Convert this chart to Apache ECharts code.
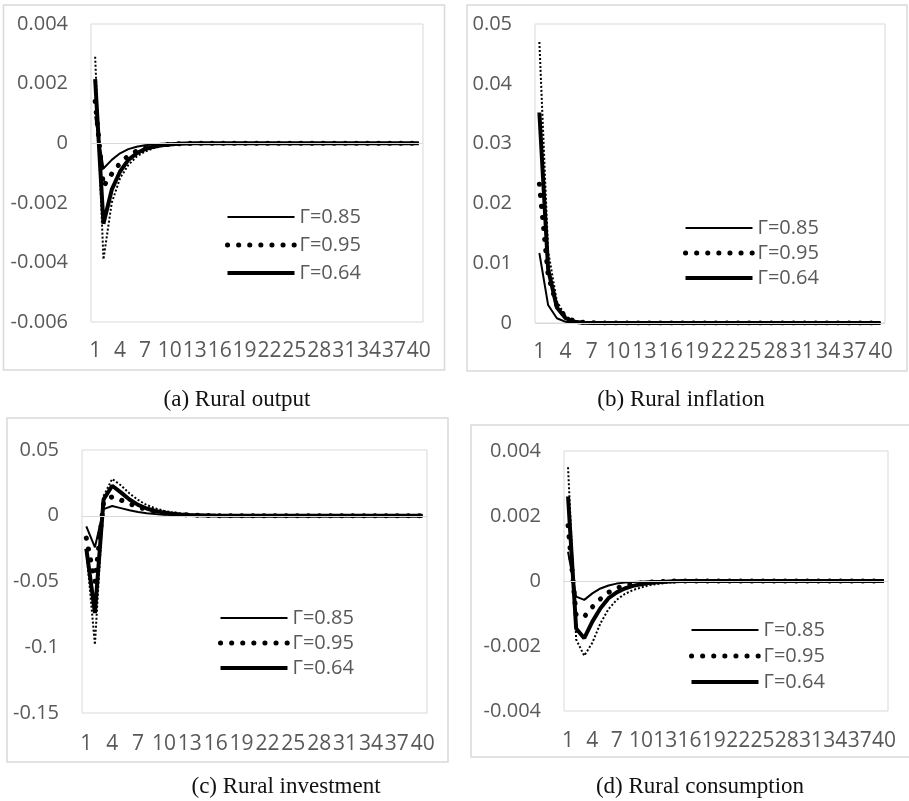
<!DOCTYPE html>
<html>
<head>
<meta charset="utf-8">
<script src="https://cdn.jsdelivr.net/npm/echarts@6/dist/echarts.min.js"></script>
<style>
  html, body { margin: 0; padding: 0; background: #fff; }
  #chart { width: 909px; height: 801px; }
</style>
</head>
<body>
<div id="chart"></div>
<script>
// Periods after the shock (x axis categories)
const periods = [
  1, 2, 3, 4, 5, 6, 7, 8, 9, 10,
  11, 12, 13, 14, 15, 16, 17, 18, 19, 20,
  21, 22, 23, 24, 25, 26, 27, 28, 29, 30,
  31, 32, 33, 34, 35, 36, 37, 38, 39, 40
];

// Legend labels (order of the legend rows)
const nameG085 = 'Γ=0.85';
const nameG095 = 'Γ=0.95';
const nameG064 = 'Γ=0.64';
const nameExtra = 'Γ (unlabelled)';

// Y axis tick labels of each panel
const outputTicks = [-0.006, -0.004, -0.002, 0, 0.002, 0.004];
const inflationTicks = [0, 0.01, 0.02, 0.03, 0.04, 0.05];
const investmentTicks = [-0.15, -0.1, -0.05, 0, 0.05];
const consumptionTicks = [-0.004, -0.002, 0, 0.002, 0.004];

// (a) Rural output
const outputG085 = [
  0.0009, -0.00085, -0.00056, -0.00034, -0.0002, -0.00012, -0.00007, -0.00004, -0.00002, -0.00001,
  0, 0, 0, 0, 0, 0, 0, 0, 0, 0,
  0, 0, 0, 0, 0, 0, 0, 0, 0, 0,
  0, 0, 0, 0, 0, 0, 0, 0, 0, 0
];
const outputG095 = [
  0.0014, -0.00145, -0.00103, -0.00067, -0.00042, -0.00026, -0.00016, -0.0001, -0.00006, -0.00004,
  -0.00002, -0.00001, 0, 0, 0, 0, 0, 0, 0, 0,
  0, 0, 0, 0, 0, 0, 0, 0, 0, 0,
  0, 0, 0, 0, 0, 0, 0, 0, 0, 0
];
const outputG064 = [
  0.00215, -0.0027, -0.00156, -0.00095, -0.00056, -0.00034, -0.0002, -0.00012, -0.00007, -0.00004,
  -0.00002, -0.00001, 0, 0, 0, 0, 0, 0, 0, 0,
  0, 0, 0, 0, 0, 0, 0, 0, 0, 0,
  0, 0, 0, 0, 0, 0, 0, 0, 0, 0
];
const outputExtra = [
  0.0029, -0.0039, -0.002, -0.00117, -0.00073, -0.00045, -0.00028, -0.00017, -0.0001, -0.00006,
  -0.00004, -0.00002, -0.00001, 0, 0, 0, 0, 0, 0, 0,
  0, 0, 0, 0, 0, 0, 0, 0, 0, 0,
  0, 0, 0, 0, 0, 0, 0, 0, 0, 0
];

// (b) Rural inflation
const inflationG085 = [
  0.0117, 0.003, 0.0008, 0.0002, 0.00005, 0.00001, 0, 0, 0, 0,
  0, 0, 0, 0, 0, 0, 0, 0, 0, 0,
  0, 0, 0, 0, 0, 0, 0, 0, 0, 0,
  0, 0, 0, 0, 0, 0, 0, 0, 0, 0
];
const inflationG095 = [
  0.0232, 0.008, 0.0029, 0.001, 0.0003, 0.0001, 0.00003, 0, 0, 0,
  0, 0, 0, 0, 0, 0, 0, 0, 0, 0,
  0, 0, 0, 0, 0, 0, 0, 0, 0, 0,
  0, 0, 0, 0, 0, 0, 0, 0, 0, 0
];
const inflationG064 = [
  0.0352, 0.009, 0.0026, 0.0008, 0.0002, 0.00006, 0.00002, 0, 0, 0,
  0, 0, 0, 0, 0, 0, 0, 0, 0, 0,
  0, 0, 0, 0, 0, 0, 0, 0, 0, 0,
  0, 0, 0, 0, 0, 0, 0, 0, 0, 0
];
const inflationExtra = [
  0.047, 0.012, 0.0036, 0.0011, 0.0003, 0.0001, 0.00003, 0, 0, 0,
  0, 0, 0, 0, 0, 0, 0, 0, 0, 0,
  0, 0, 0, 0, 0, 0, 0, 0, 0, 0,
  0, 0, 0, 0, 0, 0, 0, 0, 0, 0
];

// (c) Rural investment
const investmentG085 = [
  -0.0081, -0.024, 0.005, 0.0074, 0.0058, 0.0042, 0.0029, 0.0019, 0.0013, 0.0008,
  0.0005, 0.0003, 0.0002, 0.0001, 0.00005, 0, 0, 0, 0, 0,
  0, 0, 0, 0, 0, 0, 0, 0, 0, 0,
  0, 0, 0, 0, 0, 0, 0, 0, 0, 0
];
const investmentG095 = [
  -0.017, -0.05, 0.01, 0.0145, 0.012, 0.0092, 0.0067, 0.0047, 0.0032, 0.0022,
  0.0014, 0.0009, 0.0006, 0.0004, 0.0002, 0.0001, 0.00005, 0, 0, 0,
  0, 0, 0, 0, 0, 0, 0, 0, 0, 0,
  0, 0, 0, 0, 0, 0, 0, 0, 0, 0
];
const investmentG064 = [
  -0.025, -0.074, 0.0125, 0.0228, 0.0178, 0.0124, 0.0083, 0.0055, 0.0036, 0.0024,
  0.0015, 0.001, 0.0006, 0.0004, 0.0002, 0.0001, 0.00005, 0, 0, 0,
  0, 0, 0, 0, 0, 0, 0, 0, 0, 0,
  0, 0, 0, 0, 0, 0, 0, 0, 0, 0
];
const investmentExtra = [
  -0.026, -0.098, 0.015, 0.028, 0.0232, 0.017, 0.012, 0.0082, 0.0056, 0.0038,
  0.0025, 0.0016, 0.001, 0.0007, 0.0004, 0.0003, 0.0002, 0.0001, 0, 0,
  0, 0, 0, 0, 0, 0, 0, 0, 0, 0,
  0, 0, 0, 0, 0, 0, 0, 0, 0, 0
];

// (d) Rural consumption
const consumptionG085 = [
  0.0009, -0.00048, -0.00058, -0.00038, -0.00023, -0.00014, -0.00008, -0.00005, -0.00003, -0.00002,
  -0.00001, 0, 0, 0, 0, 0, 0, 0, 0, 0,
  0, 0, 0, 0, 0, 0, 0, 0, 0, 0,
  0, 0, 0, 0, 0, 0, 0, 0, 0, 0
];
const consumptionG095 = [
  0.0017, -0.00105, -0.0011, -0.0008, -0.00055, -0.00035, -0.00022, -0.00014, -0.00009, -0.00006,
  -0.00004, -0.00002, -0.00001, 0, 0, 0, 0, 0, 0, 0,
  0, 0, 0, 0, 0, 0, 0, 0, 0, 0,
  0, 0, 0, 0, 0, 0, 0, 0, 0, 0
];
const consumptionG064 = [
  0.0026, -0.00146, -0.00176, -0.00125, -0.00084, -0.00053, -0.00035, -0.00023, -0.00015, -0.0001,
  -0.00006, -0.00004, -0.00002, -0.00001, 0, 0, 0, 0, 0, 0,
  0, 0, 0, 0, 0, 0, 0, 0, 0, 0,
  0, 0, 0, 0, 0, 0, 0, 0, 0, 0
];
const consumptionExtra = [
  0.0035, -0.0018, -0.0023, -0.0019, -0.0013, -0.00086, -0.00058, -0.0004, -0.00028, -0.0002,
  -0.00013, -0.00009, -0.00006, -0.00004, -0.00002, -0.00001, 0, 0, 0, 0,
  0, 0, 0, 0, 0, 0, 0, 0, 0, 0,
  0, 0, 0, 0, 0, 0, 0, 0, 0, 0
];

// Captions under the panels
const captions = ['(a) Rural output', '(b) Rural inflation', '(c) Rural investment', '(d) Rural consumption'];

// ---- layout and styling ----
const axisFont = 'Open Sans';
const labelGray = '#595959';
const frameGray = '#d9d9d9';

const panels = [
  { ticks: outputTicks, series: [outputExtra, outputG085, outputG095, outputG064],
    grid: { left: 91, top: 24, width: 332, height: 298 }, xMargin: 19,
    legend: { left: 225, top: 207, itemGap: 8 },
    frame: { x: 3.5, y: 5, width: 441, height: 365 }, caption: { x: 237, y: 400 } },
  { ticks: inflationTicks, series: [inflationExtra, inflationG085, inflationG095, inflationG064],
    grid: { left: 535, top: 24, width: 350, height: 299 }, xMargin: 19,
    legend: { left: 683, top: 218, itemGap: 5 },
    frame: { x: 467, y: 5, width: 440, height: 366 }, caption: { x: 681, y: 400 } },
  { ticks: investmentTicks, series: [investmentExtra, investmentG085, investmentG095, investmentG064],
    grid: { left: 82, top: 450, width: 345, height: 263 }, xMargin: 21,
    legend: { left: 218, top: 608, itemGap: 5 },
    frame: { x: 7, y: 418, width: 441, height: 344 }, caption: { x: 286, y: 787 } },
  { ticks: consumptionTicks, series: [consumptionExtra, consumptionG085, consumptionG095, consumptionG064],
    grid: { left: 564, top: 451, width: 324, height: 260 }, xMargin: 20,
    legend: { left: 689, top: 620, itemGap: 6 },
    frame: { x: 471, y: 425, width: 450, height: 332 }, caption: { x: 700, y: 787 } }
];

// Line look of each scenario: fine dots, thin solid, round dots, thick solid
const seriesNames = [nameExtra, nameG085, nameG095, nameG064];
const lineStyles = [
  { color: '#000', width: 2, type: [2, 2] },
  { color: '#000', width: 2, type: 'solid' },
  { color: '#000', width: 5, type: [0.1, 11], cap: 'round' },
  { color: '#000', width: 4, type: 'solid' }
];
const legendWidths = { [nameG085]: 2, [nameG095]: 5, [nameG064]: 4 };

const tickText = v => String(Number(v.toFixed(6)));

const option = {
  animation: false,
  backgroundColor: '#fff',
  grid: [],
  xAxis: [],
  yAxis: [],
  legend: [],
  series: [],
  graphic: []
};

panels.forEach((p, i) => {
  option.grid.push(Object.assign({
    show: true, borderColor: frameGray, borderWidth: 1, backgroundColor: 'transparent'
  }, p.grid));

  option.xAxis.push({
    type: 'category', gridIndex: i, data: periods, boundaryGap: true, position: 'bottom',
    axisLine: { show: false, onZero: false }, axisTick: { show: false }, splitLine: { show: false },
    axisLabel: { interval: 2, color: labelGray, fontFamily: axisFont, fontSize: 21, margin: p.xMargin }
  });

  const t = p.ticks;
  option.yAxis.push({
    type: 'value', gridIndex: i,
    min: t[0], max: t[t.length - 1], interval: Number((t[1] - t[0]).toFixed(6)),
    axisLine: { show: false }, axisTick: { show: false }, splitLine: { show: false },
    axisLabel: { color: labelGray, fontFamily: axisFont, fontSize: 20, margin: 23, formatter: tickText }
  });

  p.series.forEach((data, k) => {
    const s = {
      type: 'line', name: seriesNames[k], xAxisIndex: i, yAxisIndex: i, data: data,
      symbol: 'none', showSymbol: false, smooth: false, silent: true,
      color: '#000', lineStyle: lineStyles[k]
    };
    if (k === 0) {
      // horizontal axis line through zero
      s.markLine = {
        silent: true, symbol: ['none', 'none'], label: { show: false },
        lineStyle: { color: frameGray, width: 1, type: 'solid' },
        data: [{ yAxis: 0 }]
      };
    }
    option.series.push(s);
  });

  option.legend.push({
    orient: 'vertical', left: p.legend.left, top: p.legend.top, itemGap: p.legend.itemGap,
    padding: 0, itemWidth: 67, itemHeight: 20, selectedMode: false,
    itemStyle: { opacity: 0 },
    textStyle: { color: labelGray, fontFamily: axisFont, fontSize: 20 },
    data: [nameG085, nameG095, nameG064].map(n => ({
      name: n, itemStyle: { opacity: 0 }, lineStyle: { width: legendWidths[n] }
    }))
  });

  option.graphic.push({
    type: 'rect', silent: true, z: 0,
    shape: p.frame,
    style: { fill: 'none', stroke: frameGray, lineWidth: 1.5 }
  });
  option.graphic.push({
    type: 'text', silent: true, x: p.caption.x, y: p.caption.y,
    style: {
      text: captions[i], fill: '#111', font: '23px "Liberation Serif"',
      textAlign: 'center', textVerticalAlign: 'middle'
    }
  });
});

const chart = echarts.init(document.getElementById('chart'), null, { renderer: 'canvas' });
chart.setOption(option);
</script>
</body>
</html>
